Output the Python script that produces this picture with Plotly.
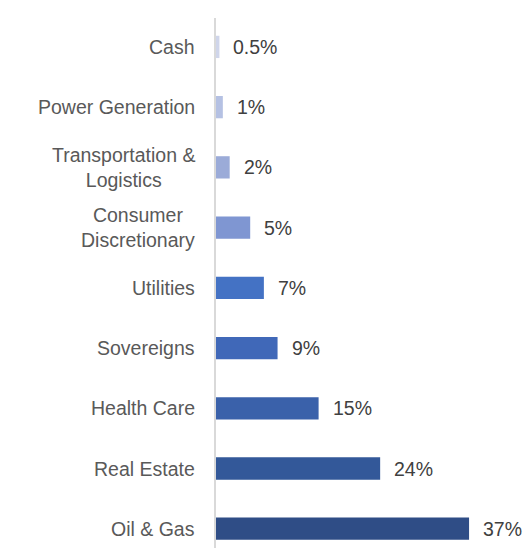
import plotly.graph_objects as go

categories = ["Oil & Gas", "Real Estate", "Health Care", "Sovereigns", "Utilities",
              "Consumer<br>Discretionary", "Transportation &<br>Logistics",
              "Power Generation", "Cash"]
values = [37, 24, 15, 9, 7, 5, 2, 1, 0.5]
value_labels = ["37%", "24%", "15%", "9%", "7%", "5%", "2%", "1%", "0.5%"]
colors = ["#2F4D86", "#335899", "#3A61AA", "#4068B8", "#4472C4",
          "#7F96D2", "#9BABD8", "#B5C1E3", "#CFD5EA"]

FONT = "Liberation Sans"

fig = go.Figure()
fig.add_trace(go.Bar(
    x=values, y=categories, orientation="h",
    marker=dict(color=colors, line=dict(width=0)),
    width=0.37, hoverinfo="skip",
))

annotations = []
for c, v, t in zip(categories, values, value_labels):
    annotations.append(dict(x=v, y=c, xref="x", yref="y", text=t, showarrow=False,
                            xanchor="left", yanchor="middle", xshift=12,
                            font=dict(family=FONT, size=19.5, color="#404040")))
    annotations.append(dict(x=0, y=c, xref="paper", yref="y", text=c, showarrow=False,
                            xanchor="right", yanchor="middle", xshift=-19, align="center",
                            font=dict(family=FONT, size=19.5, color="#595959")))

fig.update_layout(
    width=524, height=540,
    margin=dict(l=208, r=0, t=10, b=0),
    paper_bgcolor="white", plot_bgcolor="white",
    showlegend=False,
    annotations=annotations,
    xaxis=dict(range=[0, 46.2], visible=False, fixedrange=True),
    yaxis=dict(type="category", categoryorder="array", categoryarray=categories,
               range=[-0.32, 8.48], showticklabels=False, ticks="",
               showgrid=False, zeroline=False,
               showline=True, linecolor="#D9D9D9", linewidth=2),
)

fig.write_html("out.html")
